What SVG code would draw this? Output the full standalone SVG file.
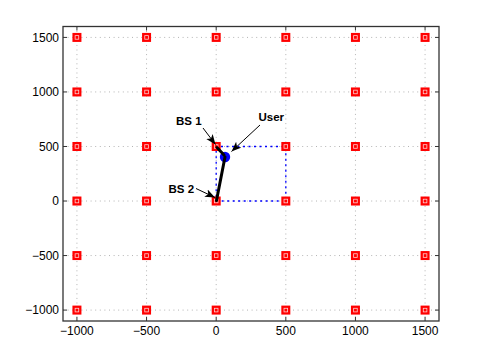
<svg xmlns="http://www.w3.org/2000/svg" width="485" height="361" viewBox="0 0 485 361">
<defs>
<style>
.grid{stroke:#b4b4b4;stroke-width:1;stroke-dasharray:1 3.6;fill:none}
.tick{stroke:#333;stroke-width:1;fill:none}
.lbl{font-family:"Liberation Sans",Arial,sans-serif;font-size:12px;fill:#000}
.bold{font-family:"Liberation Sans",Arial,sans-serif;font-size:11.5px;font-weight:bold;fill:#000}
.rect{stroke:#0000ff;stroke-width:1.3;stroke-dasharray:2 3.5;fill:none}
.bs{fill:#ff0000}
.bsi{fill:none;stroke:#ffd0d0;stroke-width:0.8}
.link{stroke:#000;stroke-width:3;stroke-linecap:round}
.arr{stroke:#000;stroke-width:1;marker-end:url(#head)}
</style>
<marker id="head" markerUnits="userSpaceOnUse" markerWidth="11" markerHeight="9" refX="10" refY="4.5" orient="auto">
<path d="M0,0.5 L10,4.5 L0,8.5 L2.5,4.5 z" fill="#000"/>
</marker>
<g id="bsmark">
<rect class="bs" x="-4.5" y="-4.5" width="9" height="9"/>
<rect class="bsi" x="-1.8" y="-1.8" width="3.6" height="3.6"/>
</g>
</defs>
<rect width="485" height="361" fill="#fff"/>
<g id="grid">
<line class="grid" x1="76.93" y1="26.5" x2="76.93" y2="321"/>
<line class="grid" x1="146.56" y1="26.5" x2="146.56" y2="321"/>
<line class="grid" x1="216.19" y1="26.5" x2="216.19" y2="321"/>
<line class="grid" x1="285.82" y1="26.5" x2="285.82" y2="321"/>
<line class="grid" x1="355.44" y1="26.5" x2="355.44" y2="321"/>
<line class="grid" x1="425.07" y1="26.5" x2="425.07" y2="321"/>
<line class="grid" x1="63" y1="37.42" x2="439" y2="37.42"/>
<line class="grid" x1="63" y1="91.95" x2="439" y2="91.95"/>
<line class="grid" x1="63" y1="146.49" x2="439" y2="146.49"/>
<line class="grid" x1="63" y1="201.02" x2="439" y2="201.02"/>
<line class="grid" x1="63" y1="255.56" x2="439" y2="255.56"/>
<line class="grid" x1="63" y1="310.09" x2="439" y2="310.09"/>
</g>
<g id="axes">
<rect x="63" y="26.5" width="376" height="294.5" fill="none" stroke="#333" stroke-width="1.3"/>
<path class="tick" d="M76.93,321v-4M146.56,321v-4M216.19,321v-4M285.82,321v-4M355.44,321v-4M425.07,321v-4M76.93,26.5v4M146.56,26.5v4M216.19,26.5v4M285.82,26.5v4M355.44,26.5v4M425.07,26.5v4M63,37.42h4M63,91.95h4M63,146.49h4M63,201.02h4M63,255.56h4M63,310.09h4M439,37.42h-4M439,91.95h-4M439,146.49h-4M439,201.02h-4M439,255.56h-4M439,310.09h-4"/>
<g class="lbl" text-anchor="end">
<text x="59" y="41.6">1500</text>
<text x="59" y="96.1">1000</text>
<text x="59" y="150.7">500</text>
<text x="59" y="205.2">0</text>
<text x="59" y="259.7">−500</text>
<text x="59" y="314.3">−1000</text>
</g>
<g class="lbl" text-anchor="middle">
<text x="76.93" y="335">−1000</text>
<text x="146.56" y="335">−500</text>
<text x="216.19" y="335">0</text>
<text x="285.82" y="335">500</text>
<text x="355.44" y="335">1000</text>
<text x="425.07" y="335">1500</text>
</g>
</g>
<g id="region">
<path class="rect" d="M216.19,201.02H285.82V146.49H216.19Z"/>
</g>
<g id="base-stations">
<use href="#bsmark" x="76.93" y="37.42"/><use href="#bsmark" x="146.56" y="37.42"/><use href="#bsmark" x="216.19" y="37.42"/><use href="#bsmark" x="285.82" y="37.42"/><use href="#bsmark" x="355.44" y="37.42"/><use href="#bsmark" x="425.07" y="37.42"/>
<use href="#bsmark" x="76.93" y="91.95"/><use href="#bsmark" x="146.56" y="91.95"/><use href="#bsmark" x="216.19" y="91.95"/><use href="#bsmark" x="285.82" y="91.95"/><use href="#bsmark" x="355.44" y="91.95"/><use href="#bsmark" x="425.07" y="91.95"/>
<use href="#bsmark" x="76.93" y="146.49"/><use href="#bsmark" x="146.56" y="146.49"/><use id="bs1" href="#bsmark" x="216.19" y="146.49"/><use href="#bsmark" x="285.82" y="146.49"/><use href="#bsmark" x="355.44" y="146.49"/><use href="#bsmark" x="425.07" y="146.49"/>
<use href="#bsmark" x="76.93" y="201.02"/><use href="#bsmark" x="146.56" y="201.02"/><use id="bs2" href="#bsmark" x="216.19" y="201.02"/><use href="#bsmark" x="285.82" y="201.02"/><use href="#bsmark" x="355.44" y="201.02"/><use href="#bsmark" x="425.07" y="201.02"/>
<use href="#bsmark" x="76.93" y="255.56"/><use href="#bsmark" x="146.56" y="255.56"/><use href="#bsmark" x="216.19" y="255.56"/><use href="#bsmark" x="285.82" y="255.56"/><use href="#bsmark" x="355.44" y="255.56"/><use href="#bsmark" x="425.07" y="255.56"/>
<use href="#bsmark" x="76.93" y="310.09"/><use href="#bsmark" x="146.56" y="310.09"/><use href="#bsmark" x="216.19" y="310.09"/><use href="#bsmark" x="285.82" y="310.09"/><use href="#bsmark" x="355.44" y="310.09"/><use href="#bsmark" x="425.07" y="310.09"/>
</g>
<g id="user">
<circle cx="225" cy="157" r="5.2" fill="#0000ff"/>
</g>
<g id="connectors">
<line class="link" x1="216.5" y1="200.5" x2="225" y2="157"/>
<line class="link" x1="217" y1="147.5" x2="224" y2="155"/>
<line class="arr" x1="203" y1="128" x2="215.5" y2="144.5"/>
<line class="arr" x1="260" y1="125" x2="231.5" y2="151.5"/>
<line class="arr" x1="196" y1="188.5" x2="215" y2="197.5"/>
</g>
<g id="labels">
<text class="bold" x="176" y="125">BS 1</text>
<text class="bold" x="258.5" y="121">User</text>
<text class="bold" x="168.5" y="192.5">BS 2</text>
</g>
</svg>
